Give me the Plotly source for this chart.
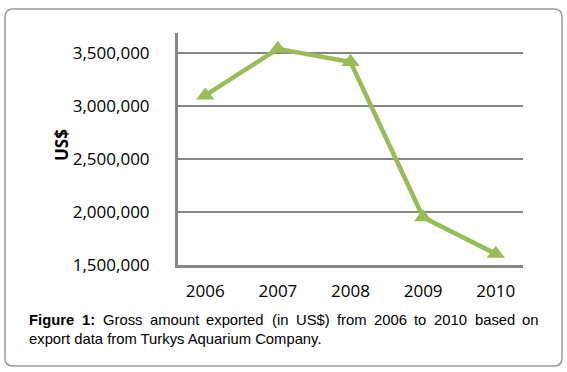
import plotly.graph_objects as go

years = ["2006", "2007", "2008", "2009", "2010"]
values = [3100000, 3540000, 3415000, 1950000, 1605000]
y_ticks = [1500000, 2000000, 2500000, 3000000, 3500000]
y_tick_labels = ["1,500,000", "2,000,000", "2,500,000", "3,000,000", "3,500,000"]
y_title = "US$"
caption_line1 = ["<b>Figure</b>", "<b>1:</b>", "Gross", "amount", "exported", "(in", "US$)",
                 "from", "2006", "to", "2010", "based", "on"]
caption_line2 = "export data from Turkys Aquarium Company."

W, H = 567, 372
L, R, T, B = 178, 523, 33, 265
ppx = lambda px: (px - L) / (R - L)
ppy = lambda py: (B - py) / (B - T)

fig = go.Figure()
fig.add_trace(go.Scatter(
    x=years, y=values, mode="lines+markers",
    line=dict(color="#9BBB59", width=4.5),
    marker=dict(symbol="triangle-up", size=16, color="#9BBB59"),
    showlegend=False, hoverinfo="x+y",
))

# rounded outer frame
x0, x1, y0, y1, r = 5, 562, 9, 366, 8
def P(px, py):
    return f"{ppx(px):.5f},{ppy(py):.5f}"
path = (f"M {P(x0 + r, y0)} L {P(x1 - r, y0)} Q {P(x1, y0)} {P(x1, y0 + r)} "
        f"L {P(x1, y1 - r)} Q {P(x1, y1)} {P(x1 - r, y1)} "
        f"L {P(x0 + r, y1)} Q {P(x0, y1)} {P(x0, y1 - r)} "
        f"L {P(x0, y0 + r)} Q {P(x0, y0)} {P(x0 + r, y0)} Z")
fig.add_shape(type="path", path=path, xref="paper", yref="paper",
              line=dict(color="#9a9a9a", width=1.5), layer="below")

annotations = [dict(text=f"<b>{y_title}</b>", x=ppx(61), y=ppy(145), xref="paper", yref="paper",
                    xanchor="center", yanchor="middle",
                    textangle=-90, showarrow=False,
                    font=dict(family="Open Sans", size=17, color="#000000"))]
# justified first caption line: word start positions (px)
word_x = [27, 79.7, 100.5, 147.5, 204.4, 269.6, 293.5, 334.7, 371.9, 412.3, 432.2, 472.6, 520.4]
cap_font = dict(family="Liberation Sans", size=14.8, color="#000000")
for w, wx in zip(caption_line1, word_x):
    annotations.append(dict(text=w, x=ppx(wx), y=ppy(320), xref="paper", yref="paper",
                            xanchor="left", yanchor="middle", showarrow=False,
                            font=cap_font))
annotations.append(dict(text=caption_line2, x=ppx(27), y=ppy(339), xref="paper", yref="paper",
                        xanchor="left", yanchor="middle", showarrow=False,
                        font=cap_font))

fig.update_layout(
    width=W, height=H,
    margin=dict(l=L, r=W - R, t=T, b=H - B, pad=0),
    paper_bgcolor="white", plot_bgcolor="white",
    annotations=annotations,
    xaxis=dict(
        type="category", showgrid=False, zeroline=False,
        showline=True, linecolor="#868686", linewidth=3,
        ticks="outside", ticklen=9, tickcolor="rgba(0,0,0,0)",
        tickfont=dict(family="Open Sans", size=17, color="#000000"),
    ),
    yaxis=dict(
        range=[1500000, 3689000], tickvals=y_ticks, ticktext=y_tick_labels,
        showgrid=True, gridcolor="#868686", gridwidth=2, zeroline=False,
        showline=True, linecolor="#868686", linewidth=3,
        ticks="outside", ticklen=22, tickcolor="rgba(0,0,0,0)",
        tickfont=dict(family="Open Sans", size=17, color="#000000"),
    ),
)

fig.write_html("out.html", config={"displayModeBar": False},
               post_script="document.body.style.margin='0';document.body.style.overflow='hidden';")
